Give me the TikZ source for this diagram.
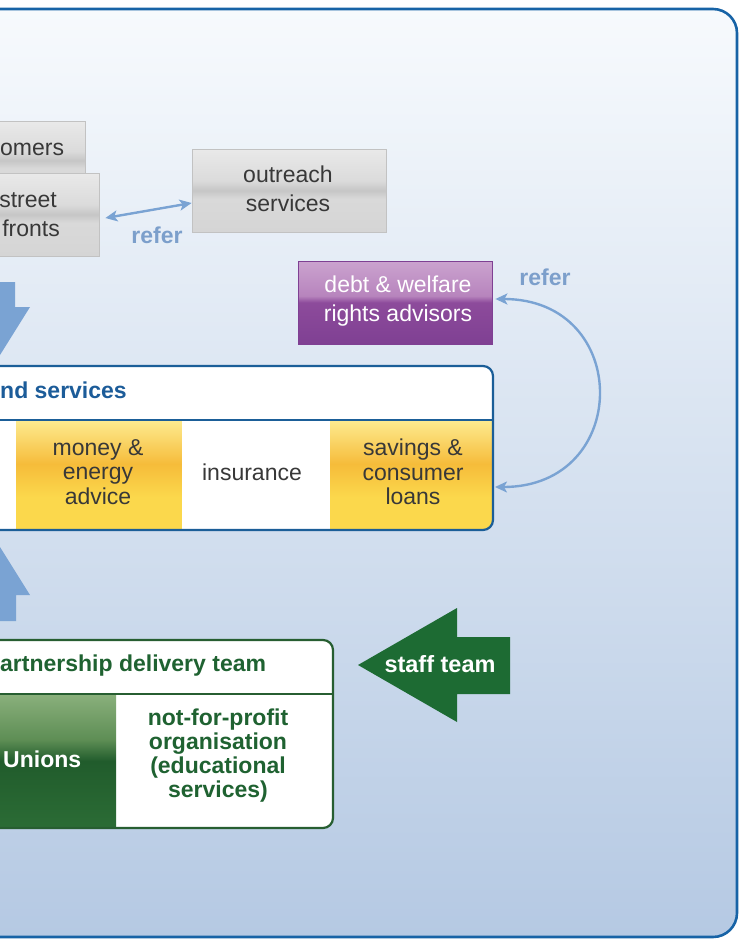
\documentclass[tikz,border=0pt]{standalone}
\usepackage{fontspec}
\setmainfont{Liberation Sans}
\usetikzlibrary{arrows.meta,calc}
\definecolor{bgTop}{HTML}{F7FAFD}
\definecolor{bgBot}{HTML}{B5C9E3}
\definecolor{frameBlue}{HTML}{1763A6}
\definecolor{boxBlue}{HTML}{1B5E98}
\definecolor{gA}{HTML}{E9E9E9}
\definecolor{gB}{HTML}{DBDBDB}
\definecolor{gC}{HTML}{C6C6C6}
\definecolor{gD}{HTML}{D9D9D9}
\definecolor{gE}{HTML}{D5D5D5}
\definecolor{gLine}{HTML}{C2C2C2}
\definecolor{pA}{HTML}{CBA3CF}
\definecolor{pB}{HTML}{B784BD}
\definecolor{pC}{HTML}{8D4B9B}
\definecolor{pD}{HTML}{7F4093}
\definecolor{yA}{HTML}{FDEB90}
\definecolor{yB}{HTML}{F6BC3A}
\definecolor{yC}{HTML}{FBD84C}
\definecolor{nA}{HTML}{8AB07C}
\definecolor{nB}{HTML}{5E8E55}
\definecolor{nC}{HTML}{215C2C}
\definecolor{nD}{HTML}{2B6C35}
\definecolor{blueHdr}{HTML}{1C5C99}
\definecolor{greenTxt}{HTML}{1F6231}
\definecolor{greenLine}{HTML}{275E31}
\definecolor{greenArrow}{HTML}{1D6B33}
\definecolor{arrowBlue}{HTML}{7AA3D3}
\definecolor{referBlue}{HTML}{7C9FCB}
\definecolor{txtGray}{HTML}{383838}
\pgfdeclareverticalshading{grayband}{100bp}{color(0bp)=(gE); color(25bp)=(gE); color(45bp)=(gD); color(50bp)=(gC); color(56bp)=(gB); color(75bp)=(gA); color(100bp)=(gA)}
\pgfdeclareverticalshading{purpleband}{100bp}{color(0bp)=(pD); color(25bp)=(pD); color(50bp)=(pC); color(54bp)=(pB); color(75bp)=(pA); color(100bp)=(pA)}
\pgfdeclareverticalshading{yellowband}{100bp}{color(0bp)=(yC); color(25bp)=(yC); color(40bp)=(yC); color(55bp)=(yB); color(75bp)=(yA); color(100bp)=(yA)}
\pgfdeclareverticalshading{greenband}{100bp}{color(0bp)=(nD); color(25bp)=(nD); color(50bp)=(nC); color(58bp)=(nB); color(75bp)=(nA); color(100bp)=(nA)}
\begin{document}
\begin{tikzpicture}[x=1pt,y=-1pt,
  txt/.style={font=\fontsize{23}{29}\selectfont, text=txtGray, align=center, inner sep=0pt},
  celltxt/.style={font=\fontsize{23}{24.5}\selectfont, text=txtGray, align=center, inner sep=0pt},
  graybox/.style={draw=gLine, line width=0.8pt, shading=grayband, inner sep=0pt},
  cell/.style={inner sep=0pt, outer sep=0pt, draw=none},
  conn/.style={draw=arrowBlue, line width=2.4pt, {Stealth[length=12pt,width=11pt,inset=3pt]}-{Stealth[length=12pt,width=11pt,inset=3pt]}},
  refertxt/.style={font=\fontsize{23}{28}\selectfont\bfseries, text=referBlue, inner sep=0pt},
  bluearrow/.style={fill=arrowBlue},
  hdrblue/.style={font=\fontsize{23}{28}\selectfont\bfseries, text=blueHdr, inner sep=0pt},
  hdrgreen/.style={font=\fontsize{23}{28}\selectfont\bfseries, text=greenTxt, inner sep=0pt}]
\clip (0,0) rectangle (739,940);
% outer frame
\path[draw=frameBlue, line width=2.6pt, rounded corners=24pt, top color=bgTop, bottom color=bgBot] (-40,9) rectangle (737,937);

% grey boxes top left
\node[graybox, minimum width=155, minimum height=79] (cust) at (7.5,160.5) {};
\node[txt, anchor=base west] (custT) at (0,155) {omers};
\node[graybox, minimum width=169, minimum height=83] (street) at (14.5,214.5) {};
\node[txt, align=right, anchor=east] (streetT) at (60,214.8) {street\kern3pt\\fronts};
\node[graybox, minimum width=194, minimum height=83] (outreach) at (289,190.5) {};
\node[txt] (outreachT) at (288,188.8) {outreach\\services};

% debt & welfare
\node[draw=pD, line width=0.8pt, shading=purpleband, inner sep=0pt, minimum width=194, minimum height=83] (debt) at (395,302.5) {};
\node[txt, text=white] (debtT) at (398,301) {debt \& welfare\\rights advisors};

% connectors
\draw[conn] ($(street.east)+(6,3.5)$) -- ($(outreach.west)+(0,12.5)$);
\node[refertxt, anchor=base] (refer1) at (157,243) {refer};

% blue arrows (left)
\fill[bluearrow] (-25,282) -- (15,282) -- (15,307) -- (30,307) -- (-5,363) -- (-40,307) -- (-25,307) -- cycle;
\fill[bluearrow] (-5,539) -- (30,595) -- (16,595) -- (16,621) -- (-26,621) -- (-26,595) -- (-40,595) -- cycle;

% services box
\begin{scope}
\clip[rounded corners=10pt] (-40,366) rectangle (493,530);
\fill[white] (-40,366) rectangle (493,530);
\node[cell, shading=yellowband, minimum width=166, minimum height=110] (money) at (99,475) {};
\node[cell, fill=white, minimum width=148, minimum height=110] (insur) at (256,475) {};
\node[cell, shading=yellowband, minimum width=163, minimum height=110] (savings) at (411.5,475) {};
\end{scope}
\draw[boxBlue, line width=2.2pt, rounded corners=10pt] (-40,366) rectangle (493,530);
\draw[boxBlue, line width=2.2pt] (-40,420) -- (493,420);
\node[hdrblue, anchor=base west] (svcT) at (0,398) {nd services};
\node[celltxt] (moneyT) at (98,472) {money \&\\energy\\advice};
\node[celltxt, anchor=base] (insurT) at (252,480) {insurance};
\node[celltxt] (savingsT) at (413,472) {savings \&\\consumer\\loans};

\draw[conn] ($(debt.east)+(3,-3.5)$) .. controls +(137,0) and +(137,0) .. ($(savings.east)+(2,12)$);
\node[refertxt, anchor=base] (refer2) at (545,285) {refer};

% partnership box
\begin{scope}
\clip[rounded corners=10pt] (-40,640) rectangle (333,828);
\fill[white] (-40,640) rectangle (333,828);
\node[cell, shading=greenband, minimum width=156, minimum height=134] (unions) at (38,761) {};
\end{scope}
\draw[greenLine, line width=2.2pt, rounded corners=10pt] (-40,640) rectangle (333,828);
\draw[greenLine, line width=2.2pt] (-40,694) -- (333,694);
\node[hdrgreen, anchor=base west] (pdtT) at (0,671) {artnership delivery team};
\node[font=\fontsize{23}{28}\selectfont\bfseries, text=white, inner sep=0pt, anchor=base west] (unionsT) at (3,767) {Unions};
\node[font=\fontsize{23}{24.3}\selectfont\bfseries, text=greenTxt, align=center, inner sep=0pt] (nfpT) at (218,755.5) {not-for-profit\\organisation\\(educational\\services)};

% staff team arrow
\fill[greenArrow] (358,665) -- (457,608) -- (457,637) -- (510,637) -- (510,694) -- (457,694) -- (457,722) -- cycle;
\node[font=\fontsize{23.5}{28}\selectfont\bfseries, text=white, inner sep=0pt, anchor=base] (staffT) at (440,672) {staff team};
\end{tikzpicture}
\end{document}
